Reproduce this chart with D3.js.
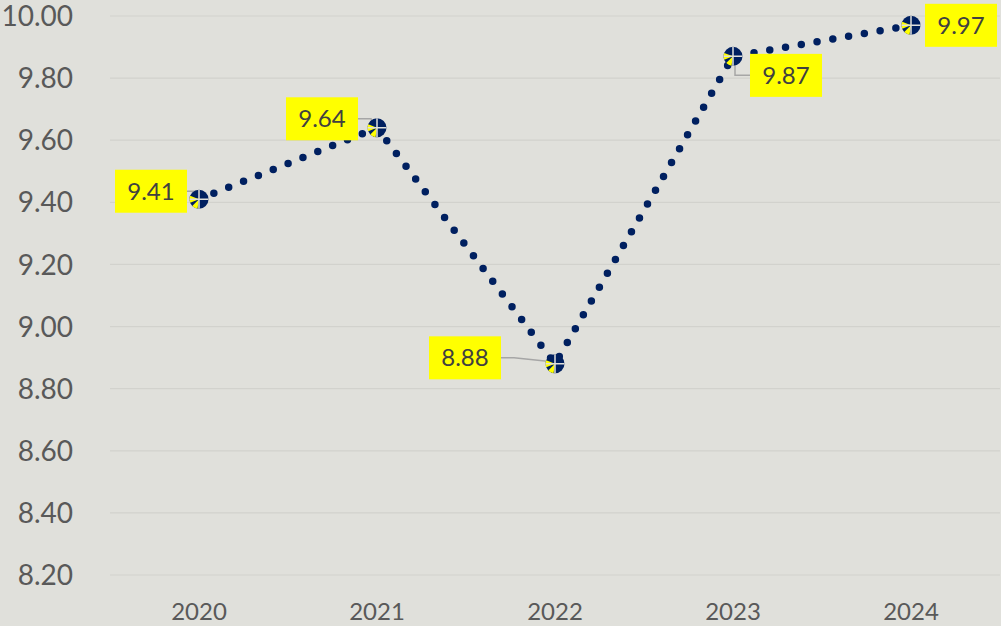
<!DOCTYPE html>
<html>
<head>
<meta charset="utf-8">
<script src="https://cdn.jsdelivr.net/npm/d3@7"></script>
<style>
  body { margin: 0; background: #e0e0db; }
  text { font-family: Lato, "Open Sans", sans-serif; }
</style>
</head>
<body>
<div class="chart"></div>
<script>
/* chart data */
const years = ["2020", "2021", "2022", "2023", "2024"];
const values = [9.41, 9.64, 8.88, 9.87, 9.97];
const yTicks = [8.20, 8.40, 8.60, 8.80, 9.00, 9.20, 9.40, 9.60, 9.80, 10.00];

/* label box placement relative to each point: [dx, dy] of box centre */
const labelOffsets = [[-48, -8], [-55, -9], [-90, -6], [53, 19], [50, 0]];

const width = 1001;
const height = 626;
const margin = {top: 16, right: 1, bottom: 51, left: 110};

const svg = d3.select(".chart").append("svg")
  .attr("width", width)
  .attr("height", height)
  .attr("viewBox", [0, 0, width, height]);

svg.append("rect")
  .attr("width", width).attr("height", height)
  .attr("fill", "#e0e0db");

/* scales */
const x = d3.scaleBand()
  .domain(years)
  .range([margin.left, width - margin.right]);

const y = d3.scaleLinear()
  .domain([8.20, 10.00])
  .range([height - margin.bottom, margin.top]);

/* gridlines */
svg.append("g")
  .selectAll("line")
  .data(yTicks)
  .join("line")
  .attr("x1", margin.left)
  .attr("x2", width - margin.right)
  .attr("y1", d => y(d))
  .attr("y2", d => y(d))
  .attr("stroke", "#d2d2cd")
  .attr("stroke-width", 1.2);

/* y axis labels */
svg.append("g")
  .selectAll("text")
  .data(yTicks)
  .join("text")
  .attr("x", 73)
  .attr("y", d => y(d))
  .attr("dy", "0.36em")
  .attr("text-anchor", "end")
  .attr("font-size", 28)
  .attr("fill", "#595959")
  .text(d => d.toFixed(2));

/* x axis labels */
svg.append("g")
  .selectAll("text")
  .data(years)
  .join("text")
  .attr("x", d => x(d) + x.bandwidth() / 2)
  .attr("y", 620)
  .attr("text-anchor", "middle")
  .attr("font-size", 24)
  .attr("fill", "#595959")
  .text(d => d);

const pts = years.map((yr, i) => ({yr, v: values[i], px: x(yr) + x.bandwidth() / 2, py: y(values[i])}));

/* dotted line */
const line = d3.line().x(d => d.px).y(d => d.py);
svg.append("path")
  .datum(pts)
  .attr("d", line)
  .attr("fill", "none")
  .attr("stroke", "#002060")
  .attr("stroke-width", 7.5)
  .attr("stroke-linecap", "round")
  .attr("stroke-dasharray", "0 16");

/* leader lines */
const leaders = svg.append("g");
pts.forEach((d, i) => {
  const [dx, dy] = labelOffsets[i];
  const bx = d.px + dx, by = d.py + dy;
  let path;
  if (i === 3) {
    path = [[d.px + 2, d.py + 4], [d.px + 2, by], [bx - 36, by]];
  } else if (i === 4) {
    return;
  } else {
    const edge = bx + 36;
    path = [[edge, by], [edge + 13, by], [d.px - 3, d.py - 2]];
  }
  leaders.append("path")
    .attr("d", d3.line()(path))
    .attr("fill", "none")
    .attr("stroke", "#a6a6a6")
    .attr("stroke-width", 1.5);
});

/* markers */
const markers = svg.append("g")
  .selectAll("g")
  .data(pts)
  .join("g")
  .attr("transform", d => `translate(${d.px},${d.py})`);

markers.append("circle")
  .attr("r", 9.5)
  .attr("fill", "#002060");

const wedge = d3.arc().innerRadius(0).outerRadius(9.5);
markers.append("path")
  .attr("d", wedge({startAngle: -Math.PI * 0.62, endAngle: -Math.PI * 0.38}))
  .attr("fill", "#ffff00");
markers.append("path")
  .attr("d", wedge({startAngle: Math.PI * 1.05, endAngle: Math.PI * 1.25}))
  .attr("fill", "#ffff00");
markers.append("path")
  .attr("d", "M-9.5,0L9.5,0M0,-9.5L0,9.5")
  .attr("stroke", "#e0e0db")
  .attr("stroke-width", 1.5);

/* data labels */
const labels = svg.append("g")
  .selectAll("g")
  .data(pts)
  .join("g")
  .attr("transform", (d, i) => `translate(${d.px + labelOffsets[i][0]},${d.py + labelOffsets[i][1]})`);

labels.append("rect")
  .attr("x", -36)
  .attr("y", -21.5)
  .attr("width", 72)
  .attr("height", 43)
  .attr("fill", "#ffff00");

labels.append("text")
  .attr("text-anchor", "middle")
  .attr("dy", "0.36em")
  .attr("font-size", 24)
  .attr("fill", "#404040")
  .text(d => d.v.toFixed(2));
</script>
</body>
</html>
